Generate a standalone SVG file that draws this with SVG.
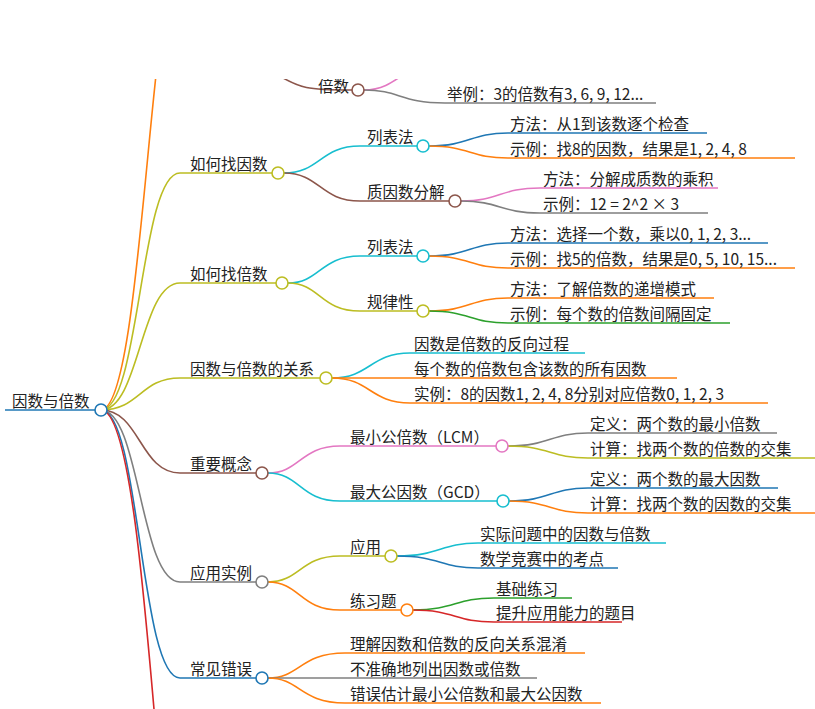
<svg xmlns="http://www.w3.org/2000/svg" width="815" height="709" viewBox="0 0 815 709">
<style>
text{font-family:"Noto Sans CJK SC","Noto Sans",sans-serif;font-size:15.5px;fill:#222}
path{fill:none;stroke-width:1.6}
circle{fill:#fff;stroke-width:1.6}
</style>
<defs><clipPath id="c"><rect x="0" y="79" width="815" height="630"/></clipPath></defs>
<rect width="815" height="709" fill="#fff"/>
<g clip-path="url(#c)">
<g id="connectors">
<path d="M101 410 C145 410 150 -80 190 -80" stroke="#ff7f0e"/>
<path d="M101 410 C140 410 140 173 180 173 H272" stroke="#bcbd22"/>
<path d="M101 410 C140 410 140 283 180 283 H276" stroke="#bcbd22"/>
<path d="M101 410 C140 410 140 378 180 378 H320" stroke="#bcbd22"/>
<path d="M101 410 C140 410 140 473 180 473 H256" stroke="#8c564b"/>
<path d="M101 410 C140 410 140 582 180 582 H256" stroke="#7f7f7f"/>
<path d="M101 410 C140 410 140 678 180 678 H256" stroke="#1f77b4"/>
<path d="M101 410 C130 410 145 600 160 780" stroke="#d62728"/>
<path d="M270 70 C300 90 310 90 352 90" stroke="#8c564b"/>
<path d="M364 90 C385 90 395 80 410 70" stroke="#e377c2"/>
<path d="M364 90 C400 90 400 103 445 103 H656" stroke="#7f7f7f"/>
<path d="M284 173 C320 173 320 146 360 146 H417" stroke="#17becf"/>
<path d="M284 173 C320 173 320 201 360 201 H449" stroke="#8c564b"/>
<path d="M288 283 C320 283 320 256 360 256 H417" stroke="#17becf"/>
<path d="M288 283 C320 283 320 311 360 311 H417" stroke="#bcbd22"/>
<path d="M332 378 C370 378 370 353 410 353 H585" stroke="#17becf"/>
<path d="M332 378 H677" stroke="#ff7f0e"/>
<path d="M332 378 C370 378 370 403 410 403 H768" stroke="#ff7f0e"/>
<path d="M268 473 C300 473 300 446 340 446 H496" stroke="#e377c2"/>
<path d="M268 473 C300 473 300 501 340 501 H497" stroke="#17becf"/>
<path d="M268 582 C300 582 300 556 340 556 H385" stroke="#bcbd22"/>
<path d="M268 582 C300 582 300 610 340 610 H401" stroke="#ff7f0e"/>
<path d="M268 678 C300 678 300 653 345 653 H585" stroke="#ff7f0e"/>
<path d="M268 678 H537" stroke="#7f7f7f"/>
<path d="M268 678 C300 678 300 703 345 703 H601" stroke="#ff7f0e"/>
<path d="M429 146 C470 146 470 133 508 133 H707" stroke="#1f77b4"/>
<path d="M429 146 C470 146 470 158 508 158 H795" stroke="#ff7f0e"/>
<path d="M461 201 C500 201 500 188 540 188 H718" stroke="#e377c2"/>
<path d="M461 201 C500 201 500 213 540 213 H708" stroke="#7f7f7f"/>
<path d="M429 256 C470 256 470 243 508 243 H768" stroke="#1f77b4"/>
<path d="M429 256 C470 256 470 268 508 268 H795" stroke="#ff7f0e"/>
<path d="M429 311 C470 311 470 298 508 298 H714" stroke="#ff7f0e"/>
<path d="M429 311 C470 311 470 323 508 323 H730" stroke="#2ca02c"/>
<path d="M508 446 C550 446 550 433 588 433 H777" stroke="#7f7f7f"/>
<path d="M508 446 C550 446 550 458 588 458 H815" stroke="#bcbd22"/>
<path d="M509 501 C550 501 550 488 588 488 H778" stroke="#1f77b4"/>
<path d="M509 501 C550 501 550 513 588 513 H815" stroke="#ff7f0e"/>
<path d="M397 556 C440 556 440 543 478 543 H666" stroke="#17becf"/>
<path d="M397 556 C440 556 440 568 478 568 H618" stroke="#1f77b4"/>
<path d="M413 610 C455 610 455 598 494 598 H572" stroke="#2ca02c"/>
<path d="M413 610 C455 610 455 622 494 622 H622" stroke="#d62728"/>
</g>
<text x="318" y="92">倍数</text>
<circle cx="358" cy="90" r="6" stroke="#8c564b"/>
</g>
<g id="root"><path d="M5 410 H95" stroke="#1f77b4" stroke-width="3.5"/><text x="12" y="407">因数与倍数</text><circle cx="101" cy="410" r="6" stroke="#1f77b4"/></g>
<g id="n1"><text x="190" y="170">如何找因数</text><circle cx="278" cy="173" r="6" stroke="#bcbd22"/></g>
<g id="n2"><text x="190" y="280">如何找倍数</text><circle cx="282" cy="283" r="6" stroke="#bcbd22"/></g>
<g id="n3"><text x="190" y="375">因数与倍数的关系</text><circle cx="326" cy="378" r="6" stroke="#bcbd22"/></g>
<g id="n4"><text x="190" y="470">重要概念</text><circle cx="262" cy="473" r="6" stroke="#8c564b"/></g>
<g id="n5"><text x="190" y="579">应用实例</text><circle cx="262" cy="582" r="6" stroke="#7f7f7f"/></g>
<g id="n6"><text x="190" y="675">常见错误</text><circle cx="262" cy="678" r="6" stroke="#1f77b4"/></g>
<g id="n11"><text x="367" y="143">列表法</text><circle cx="423" cy="146" r="6" stroke="#17becf"/></g>
<g id="n12"><text x="367" y="198">质因数分解</text><circle cx="455" cy="201" r="6" stroke="#8c564b"/></g>
<g id="n21"><text x="367" y="253">列表法</text><circle cx="423" cy="256" r="6" stroke="#17becf"/></g>
<g id="n22"><text x="367" y="308">规律性</text><circle cx="423" cy="311" r="6" stroke="#bcbd22"/></g>
<g id="n41"><text x="350" y="443">最小公倍数（LCM）</text><circle cx="502" cy="446" r="6" stroke="#e377c2"/></g>
<g id="n42"><text x="350" y="498">最大公因数（GCD）</text><circle cx="503" cy="501" r="6" stroke="#17becf"/></g>
<g id="n51"><text x="350" y="553">应用</text><circle cx="391" cy="556" r="6" stroke="#bcbd22"/></g>
<g id="n52"><text x="350" y="607">练习题</text><circle cx="407" cy="610" r="6" stroke="#ff7f0e"/></g>
<g id="leaves">
<text x="447" y="100">举例：3的倍数有3, 6, 9, 12...</text>
<text x="510" y="130">方法：从1到该数逐个检查</text>
<text x="510" y="155">示例：找8的因数，结果是1, 2, 4, 8</text>
<text x="543" y="185">方法：分解成质数的乘积</text>
<text x="543" y="210">示例：12 = 2^2 × 3</text>
<text x="510" y="240">方法：选择一个数，乘以0, 1, 2, 3...</text>
<text x="510" y="265">示例：找5的倍数，结果是0, 5, 10, 15...</text>
<text x="510" y="295">方法：了解倍数的递增模式</text>
<text x="510" y="320">示例：每个数的倍数间隔固定</text>
<text x="414" y="350">因数是倍数的反向过程</text>
<text x="414" y="375">每个数的倍数包含该数的所有因数</text>
<text x="414" y="400">实例：8的因数1, 2, 4, 8分别对应倍数0, 1, 2, 3</text>
<text x="590" y="430">定义：两个数的最小倍数</text>
<text x="590" y="455">计算：找两个数的倍数的交集</text>
<text x="590" y="485">定义：两个数的最大因数</text>
<text x="590" y="510">计算：找两个数的因数的交集</text>
<text x="480" y="540">实际问题中的因数与倍数</text>
<text x="480" y="565">数学竞赛中的考点</text>
<text x="496" y="595">基础练习</text>
<text x="496" y="619">提升应用能力的题目</text>
<text x="350" y="650">理解因数和倍数的反向关系混淆</text>
<text x="350" y="675">不准确地列出因数或倍数</text>
<text x="350" y="700">错误估计最小公倍数和最大公因数</text>
</g>
</svg>
